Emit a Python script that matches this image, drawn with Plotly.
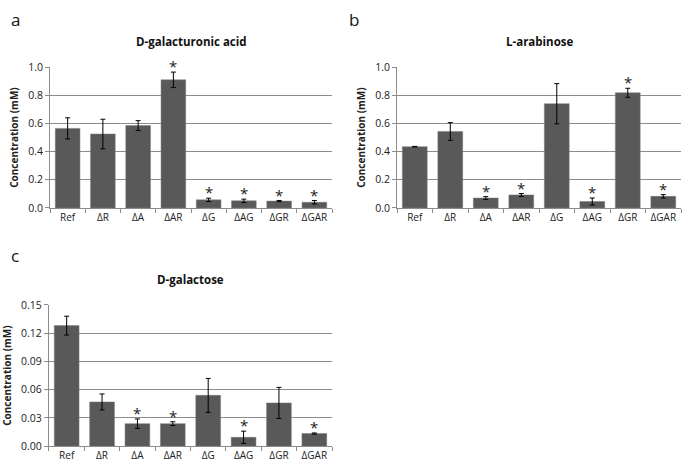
import plotly.graph_objects as go

categories = ["Ref", "ΔR", "ΔA", "ΔAR", "ΔG", "ΔAG", "ΔGR", "ΔGAR"]

galacturonic_vals = [0.565, 0.525, 0.585, 0.91, 0.057, 0.050, 0.048, 0.040]
galacturonic_err = [0.075, 0.105, 0.035, 0.055, 0.012, 0.012, 0.004, 0.012]
galacturonic_sig = [False, False, False, True, True, True, True, True]

arabinose_vals = [0.435, 0.543, 0.070, 0.092, 0.740, 0.045, 0.818, 0.082]
arabinose_err = [0.002, 0.063, 0.010, 0.010, 0.143, 0.025, 0.032, 0.012]
arabinose_sig = [False, False, True, True, False, True, True, True]

galactose_vals = [0.128, 0.047, 0.024, 0.024, 0.054, 0.0095, 0.046, 0.0135]
galactose_err = [0.010, 0.0085, 0.005, 0.002, 0.018, 0.0065, 0.0165, 0.0006]
galactose_sig = [False, False, True, True, False, True, False, True]

titles = ["D-galacturonic acid", "L-arabinose", "D-galactose"]

FONT = "Open Sans, Liberation Sans, Arial"
BAR = "#595959"
GRID = "#8c8c8c"

fig = go.Figure()

panels = [
    (galacturonic_vals, galacturonic_err, galacturonic_sig, "x", "y", [0.0730, 0.4847], [0.5614, 0.8686], [0, 1.0], 0.2, ".1f"),
    (arabinose_vals, arabinose_err, arabinose_sig, "x2", "y2", [0.5796, 0.9942], [0.5614, 0.8686], [0, 1.0], 0.2, ".1f"),
    (galactose_vals, galactose_err, galactose_sig, "x3", "y3", [0.0715, 0.4847], [0.0409, 0.3496], [0, 0.15], 0.03, ".2f"),
]

layout_axes = {}
annotations = []
for i, (vals, errs, sig, xa, ya, xd, yd, yr, dt, fmt) in enumerate(panels):
    fig.add_trace(go.Bar(
        x=categories, y=vals, xaxis=xa, yaxis=ya,
        marker=dict(color=BAR, line=dict(color="#7a7a7a", width=0.5)),
        width=0.7,
        error_y=dict(type="data", array=errs, visible=True, color="black", thickness=1, width=2.5),
        showlegend=False,
    ))
    n = "" if i == 0 else str(i + 1)
    layout_axes["xaxis" + n] = dict(
        domain=xd, anchor=ya, type="category",
        showline=True, linecolor=GRID, linewidth=1,
        ticks="outside", tickson="boundaries", ticklen=4, tickcolor=GRID,
        showgrid=False, tickfont=dict(family=FONT, size=10, color="#222"),
    )
    layout_axes["yaxis" + n] = dict(
        domain=yd, anchor=xa, range=yr, dtick=dt, tickformat=fmt,
        showline=True, linecolor=GRID, linewidth=1,
        ticks="outside", ticklen=4, tickcolor=GRID,
        showgrid=True, gridcolor=GRID, gridwidth=1, zeroline=False,
        tickfont=dict(family=FONT, size=10.5, color="#222"),
        title=dict(text="<b>Concentration (mM)</b>", font=dict(family=FONT, size=10, color="#222"), standoff=7),
    )
    for c, v, e, s in zip(categories, vals, errs, sig):
        if s:
            annotations.append(dict(
                x=c, y=v + e, xref=xa, yref=ya, text="*", showarrow=False,
                yanchor="bottom", yshift=-6, font=dict(family=FONT, size=15, color="#222"),
            ))
    xc = (xd[0] + xd[1]) / 2
    annotations.append(dict(
        x=xc, y=yd[1] + 0.055, xref="paper", yref="paper", text="<b>" + titles[i] + "</b>",
        showarrow=False, xanchor="center", yanchor="middle",
        font=dict(family=FONT, size=11.5, color="#111"),
    ))

annotations.append(dict(x=9 / 685, y=1 - 13 / 472, xref="paper", yref="paper", text="a", showarrow=False,
                        xanchor="left", yanchor="middle", font=dict(family=FONT, size=17, color="#111")))
annotations.append(dict(x=347 / 685, y=1 - 13 / 472, xref="paper", yref="paper", text="b", showarrow=False,
                        xanchor="left", yanchor="middle", font=dict(family=FONT, size=17, color="#111")))
annotations.append(dict(x=9 / 685, y=1 - 256 / 472, xref="paper", yref="paper", text="c", showarrow=False,
                        xanchor="left", yanchor="middle", font=dict(family=FONT, size=17, color="#111")))

fig.update_layout(
    width=685, height=472, margin=dict(l=0, r=0, t=0, b=0),
    paper_bgcolor="white", plot_bgcolor="white",
    bargap=0.3, annotations=annotations, **layout_axes,
)

fig.write_html("out.html", config={"displayModeBar": False},
               post_script="document.body.style.margin='0';document.body.style.overflow='hidden';")
